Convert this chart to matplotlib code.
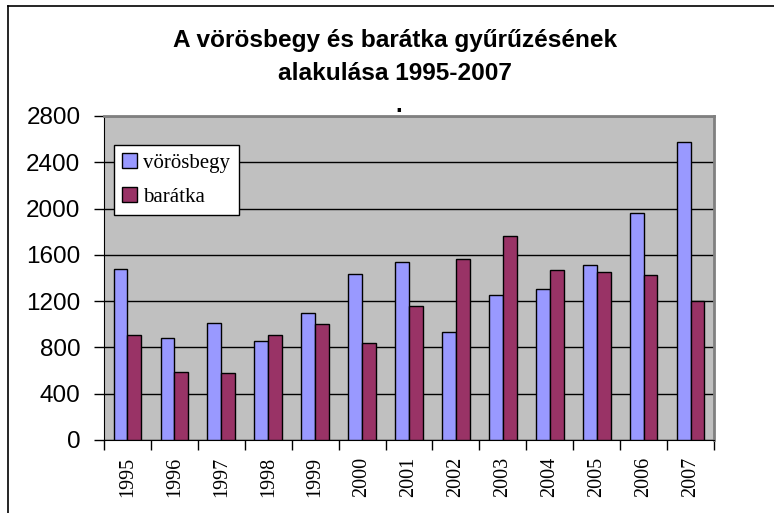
import matplotlib
matplotlib.use("Agg")
import matplotlib.pyplot as plt
import numpy as np
from matplotlib.lines import Line2D

years = ["1995", "1996", "1997", "1998", "1999", "2000", "2001",
         "2002", "2003", "2004", "2005", "2006", "2007"]
vorosbegy = [1480, 880, 1010, 855, 1095, 1437, 1541, 933, 1250, 1302, 1512, 1962, 2573]
baratka = [907, 590, 578, 910, 1000, 841, 1158, 1567, 1763, 1472, 1449, 1423, 1199]
yticks = [0, 400, 800, 1200, 1600, 2000, 2400, 2800]

W, H = 774, 513
fig = plt.figure(figsize=(W / 100, H / 100), dpi=100)
fig.patch.set_facecolor("white")

ax = fig.add_axes([104 / W, 1 - 440 / H, (714 - 104) / W, (440 - 116) / H])
ax.set_facecolor("#C0C0C0")

x = np.arange(len(years))
bw = 0.295
ax.bar(x - bw / 2, vorosbegy, bw, color="#9999FF", edgecolor="black", linewidth=1.0,
       label="vörösbegy", zorder=3)
ax.bar(x + bw / 2, baratka, bw, color="#993366", edgecolor="black", linewidth=1.0,
       label="barátka", zorder=3)

ax.set_xlim(-0.5, len(years) - 0.5)
ax.set_ylim(0, 2800)
ax.set_yticks(yticks)
ax.set_yticklabels([str(v) for v in yticks], fontfamily="Liberation Sans", fontsize=17.5)
ax.yaxis.grid(True, color="black", linewidth=1.0, zorder=1)
ax.set_axisbelow(True)

ax.set_xticks(x)
ax.set_xticklabels(years, rotation=90, fontfamily="Liberation Serif", fontsize=14.5)
ax.tick_params(axis="x", length=0, pad=12)
ax.set_xticks(np.arange(-0.5, len(years) + 0.5, 1), minor=True)
ax.tick_params(axis="x", which="minor", length=7, width=1, direction="out", color="black")
ax.tick_params(axis="y", length=7, width=1, direction="out", color="black", pad=10)

for s in ["top", "right"]:
    ax.spines[s].set_color("#808080")
    ax.spines[s].set_linewidth(2)
ax.spines["left"].set_color("black")
ax.spines["bottom"].set_color("black")

leg = ax.legend(loc="upper left", bbox_to_anchor=((114 - 104) / 610, (440 - 145) / 324),
                prop={"family": "Liberation Serif", "size": 15}, frameon=True,
                fancybox=False, edgecolor="black", framealpha=1, borderaxespad=0,
                handlelength=0.7, handleheight=0.7, handletextpad=0.3,
                labelspacing=0.7, borderpad=0.4)
leg.get_frame().set_linewidth(1.0)

fig.text(395 / W, 1 - 57 / H, "A vörösbegy és barátka gyűrűzésének\nalakulása 1995-2007",
         ha="center", va="center", fontfamily="Liberation Sans", fontweight="bold",
         fontsize=17.6, linespacing=1.55)
fig.text(399 / W, 1 - 106 / H, ".", ha="center", va="center",
         fontfamily="Liberation Sans", fontweight="bold", fontsize=17)

# outer chart frame (partially cropped)
fig.add_artist(Line2D([8 / W, 8 / W], [0, 1 - 5.5 / H], color="black", linewidth=1.2,
                      transform=fig.transFigure))
fig.add_artist(Line2D([8 / W, 1], [1 - 5.5 / H, 1 - 5.5 / H], color="black", linewidth=1.2,
                      transform=fig.transFigure))

fig.savefig("out.png", dpi=100)
